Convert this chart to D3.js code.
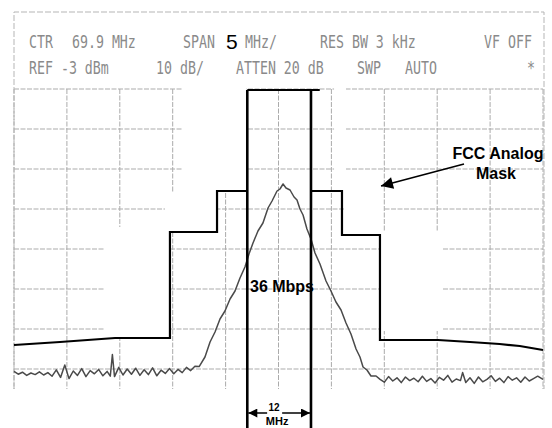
<!DOCTYPE html>
<html>
<head>
<meta charset="utf-8">
<script src="https://cdn.jsdelivr.net/npm/d3@7"></script>
<style>
  body { margin: 0; background: #fff; }
  svg { display: block; }
</style>
</head>
<body>
<div class="canvas"></div>
<script>
// analyzer settings (from the header)
const ctrMHz = 69.9;
const mhzPerDiv = 5;
const refDbm = -3;
const dbPerDiv = 10;

// header texts
const headerRow1 = ['CTR', '69.9 MHz', 'SPAN', 'MHz/', 'RES BW 3 kHz', 'VF OFF'];
const headerRow2 = ['REF -3 dBm', '10 dB/', 'ATTEN 20 dB', 'SWP', 'AUTO', '*'];
const spanValue = '5';

// FCC analog mask, [MHz, dBm]
const maskLeft = [[44.9, -67], [49.25, -66.25], [54.45, -65.25], [59.64, -65.25], [59.64, -38.75],
  [64.09, -38.75], [64.09, -28.5], [66.95, -28.5]];
const maskRight = [[72.97, -28.5], [75.9, -28.5], [75.9, -39.5], [79.49, -39.5], [79.49, -65.75],
  [84.98, -65.75], [88, -66.25], [90.8, -66.75], [92.7, -67.25], [94.9, -68.25]];

// channel edges of the 36 Mbps signal
const channelEdges = [66.95, 72.97];
const channelTop = -3.25;
const channelTopEnd = 73.8;

// measured trace, [MHz, dBm]
const trace = [
  [44.9, -73.6], [45.3, -74.3], [45.7, -73.8], [46.1, -74.6], [46.5, -74.0], [46.9, -74.4],
  [47.3, -73.7], [47.7, -74.5], [48.1, -73.9], [48.5, -74.8], [48.9, -73.2], [49.3, -75.1],
  [49.7, -72.0], [50.1, -75.4], [50.5, -73.5], [50.9, -74.6], [51.3, -72.9], [51.7, -74.9],
  [52.1, -73.4], [52.5, -74.2], [52.9, -73.1], [53.3, -74.7], [53.7, -73.6], [54.0, -74.8],
  [54.2, -69.4], [54.4, -74.9], [54.8, -72.6], [55.2, -74.5], [55.6, -73.0], [56.0, -74.3],
  [56.4, -72.8], [56.8, -74.6], [57.2, -73.2], [57.6, -74.4], [58.0, -72.7], [58.4, -74.7],
  [58.8, -73.3], [59.2, -74.1], [59.6, -72.9], [60.0, -74.2], [60.4, -73.1], [60.8, -73.9],
  [61.2, -72.6], [61.6, -73.4], [62.0, -72.3], [62.4, -72.4],
  [62.95, -70.0], [63.43, -66.25], [63.9, -63.75], [64.37, -60.5], [64.84, -58.5], [65.32, -55.5],
  [65.79, -53.5], [66.26, -50.25], [66.73, -47.5], [67.11, -44.25], [67.49, -41.5], [67.96, -38.5],
  [68.43, -36.5], [68.91, -32.75], [69.29, -31.0], [69.76, -28.5], [70.04, -28.0], [70.33, -26.75],
  [70.61, -27.75], [70.99, -28.25], [71.37, -30.0], [71.65, -30.75], [71.93, -33.0], [72.22, -34.5],
  [72.59, -38.0], [72.97, -40.5], [73.35, -44.0], [73.82, -46.75], [74.39, -51.0], [74.86, -53.5],
  [75.33, -56.25], [75.81, -58.25], [76.28, -61.5], [76.75, -64.25], [77.23, -68.0], [77.6, -70.0],
  [77.89, -72.5], [78.26, -73.25], [78.64, -74.75], [79.12, -74.75],
  [79.5, -75.6], [79.9, -76.3], [80.3, -74.9], [80.7, -76.0], [81.1, -75.2], [81.5, -76.4],
  [81.9, -75.0], [82.3, -75.9], [82.7, -75.3], [83.1, -76.2], [83.5, -74.8], [83.9, -76.1],
  [84.3, -75.4], [84.7, -76.5], [85.1, -75.1], [85.5, -75.8], [85.9, -74.6], [86.3, -76.3],
  [86.7, -75.5], [87.1, -75.9], [87.3, -73.9], [87.6, -76.4], [88.0, -75.2], [88.4, -76.6],
  [88.8, -75.0], [89.2, -76.2], [89.6, -75.6], [90.0, -74.7], [90.4, -76.1], [90.8, -75.3],
  [91.2, -76.4], [91.6, -74.9], [92.0, -75.8], [92.4, -75.2], [92.8, -76.3], [93.2, -75.0],
  [93.6, -76.0], [94.0, -75.4], [94.4, -74.8], [94.9, -75.6]
];

// erased areas of the original plot, [MHz from, MHz to, dBm top, dBm bottom]
const erased = [
  [60.87, 66.83, -2.25, -28.25],
  [59.17, 64.18, -29, -38.75],
  [53.5, 59.64, -37.5, -65],
  [75.15, 76.28, -2.25, -28.25],
  [76.19, 79.78, -28.25, -39.25],
  [79.59, 85.45, -38.75, -63.5]
];

const svg = d3.select('.canvas')
  .append('svg')
    .attr('width', 552)
    .attr('height', 428);

const defs = svg.append('defs');
defs.append('marker')
  .attr('id', 'head')
  .attr('viewBox', '0 0 10 10')
  .attr('refX', 10).attr('refY', 5)
  .attr('markerWidth', 11).attr('markerHeight', 9)
  .attr('markerUnits', 'userSpaceOnUse')
  .attr('orient', 'auto')
  .append('path')
    .attr('d', 'M0,0 L10,5 L0,10 z')
    .attr('fill', '#000');
defs.append('marker')
  .attr('id', 'bighead')
  .attr('viewBox', '0 0 10 10')
  .attr('refX', 10).attr('refY', 5)
  .attr('markerWidth', 18).attr('markerHeight', 12)
  .attr('markerUnits', 'userSpaceOnUse')
  .attr('orient', 'auto')
  .append('path')
    .attr('d', 'M0,0 L10,5 L0,10 z')
    .attr('fill', '#000');

const x = d3.scaleLinear()
  .domain([ctrMHz - 5 * mhzPerDiv, ctrMHz + 5 * mhzPerDiv])
  .range([14, 543]);
const y = d3.scaleLinear()
  .domain([refDbm, refDbm - 8 * dbPerDiv])
  .range([89, 409]);

const bottomDbm = -78;
const gridColor = '#ababab';

// graticule
const grid = svg.append('g');
grid.selectAll('line.v')
  .data(d3.range(0, 11).map(i => x.domain()[0] + i * mhzPerDiv))
  .enter().append('line')
    .attr('x1', d => x(d)).attr('x2', d => x(d))
    .attr('y1', y(refDbm)).attr('y2', y(bottomDbm))
    .attr('stroke', gridColor)
    .attr('stroke-dasharray', '5,1.5');
grid.selectAll('line.h')
  .data(d3.range(0, 8).map(i => refDbm - i * dbPerDiv))
  .enter().append('line')
    .attr('x1', x.range()[0]).attr('x2', x.range()[1])
    .attr('y1', d => y(d)).attr('y2', d => y(d))
    .attr('stroke', gridColor)
    .attr('stroke-dasharray', '5,1.5');

// header frame
grid.append('path')
  .attr('d', `M14,${y(bottomDbm)} V12 H544 V${y(bottomDbm)}`)
  .attr('fill', 'none')
  .attr('stroke', '#b5b5b5')
  .attr('stroke-dasharray', '6,2');

// erased patches
svg.append('g').selectAll('rect')
  .data(erased)
  .enter().append('rect')
    .attr('x', d => x(d[0]))
    .attr('y', d => y(d[2]))
    .attr('width', d => x(d[1]) - x(d[0]))
    .attr('height', d => y(d[3]) - y(d[2]))
    .attr('fill', '#fff');

// header text
const header = svg.append('g')
  .attr('font-family', 'DejaVu Sans Mono, monospace')
  .attr('font-size', 17)
  .attr('fill', '#8a8a8a');
const row1X = [29, 72, 183, 245, 320, 484];
const row2X = [29, 156, 236, 357, 405, 527];
headerRow1.forEach((t, i) => {
  header.append('text')
    .attr('transform', `translate(${row1X[i]},48) scale(0.78,1)`)
    .text(t);
});
headerRow2.forEach((t, i) => {
  header.append('text')
    .attr('transform', `translate(${row2X[i]},74) scale(0.78,1)`)
    .text(t);
});
svg.append('text')
  .attr('x', 226).attr('y', 49)
  .attr('font-family', 'Liberation Sans, Arial, sans-serif')
  .attr('font-size', 21)
  .attr('fill', '#000')
  .text(spanValue);

// trace
const line = d3.line()
  .x(d => x(d[0]))
  .y(d => y(d[1]));

svg.append('path')
  .datum(trace)
  .attr('d', line)
  .attr('fill', 'none')
  .attr('stroke', '#4a4a4a')
  .attr('stroke-width', 1.5)
  .attr('stroke-linejoin', 'round');

// mask
[maskLeft, maskRight].forEach(m => {
  svg.append('path')
    .datum(m)
    .attr('d', line)
    .attr('fill', 'none')
    .attr('stroke', '#000')
    .attr('stroke-width', 2.2);
});

// channel lines
svg.selectAll('line.ch')
  .data(channelEdges)
  .enter().append('line')
    .attr('x1', d => x(d)).attr('x2', d => x(d))
    .attr('y1', y(channelTop)).attr('y2', 428)
    .attr('stroke', '#000')
    .attr('stroke-width', 2.6);
svg.append('line')
  .attr('x1', x(channelEdges[0])).attr('x2', x(channelTopEnd))
  .attr('y1', y(channelTop)).attr('y2', y(channelTop))
  .attr('stroke', '#000')
  .attr('stroke-width', 2.2);

// annotations
const bold = 'Liberation Sans, Arial, sans-serif';
svg.append('text')
  .attr('x', 282).attr('y', 292)
  .attr('text-anchor', 'middle')
  .attr('font-family', bold).attr('font-weight', 'bold')
  .attr('font-size', 16)
  .text('36 Mbps');

svg.append('text')
  .attr('x', 498).attr('y', 159)
  .attr('text-anchor', 'middle')
  .attr('font-family', bold).attr('font-weight', 'bold')
  .attr('font-size', 16)
  .text('FCC Analog');
svg.append('text')
  .attr('x', 496).attr('y', 179)
  .attr('text-anchor', 'middle')
  .attr('font-family', bold).attr('font-weight', 'bold')
  .attr('font-size', 16)
  .text('Mask');
svg.append('line')
  .attr('x1', 464).attr('y1', 164)
  .attr('x2', 381).attr('y2', 186)
  .attr('stroke', '#000')
  .attr('stroke-width', 1.6)
  .attr('marker-end', 'url(#bighead)');

// 12 MHz bracket between the channel edges
const midMHz = (channelEdges[0] + channelEdges[1]) / 2;
svg.append('line')
  .attr('x1', x(midMHz) - 12).attr('x2', x(channelEdges[0]) + 1)
  .attr('y1', 413).attr('y2', 413)
  .attr('stroke', '#000').attr('stroke-width', 1.5)
  .attr('marker-end', 'url(#head)');
svg.append('line')
  .attr('x1', x(midMHz) + 3).attr('x2', x(channelEdges[1]) - 1)
  .attr('y1', 413).attr('y2', 413)
  .attr('stroke', '#000').attr('stroke-width', 1.5)
  .attr('marker-end', 'url(#head)');
svg.append('text')
  .attr('x', x(midMHz) - 5).attr('y', 411)
  .attr('text-anchor', 'middle')
  .attr('font-family', bold).attr('font-weight', 'bold')
  .attr('font-size', 10)
  .text('12');
svg.append('text')
  .attr('x', x(midMHz) - 2).attr('y', 425)
  .attr('text-anchor', 'middle')
  .attr('font-family', bold).attr('font-weight', 'bold')
  .attr('font-size', 11)
  .text('MHz');
</script>
</body>
</html>
